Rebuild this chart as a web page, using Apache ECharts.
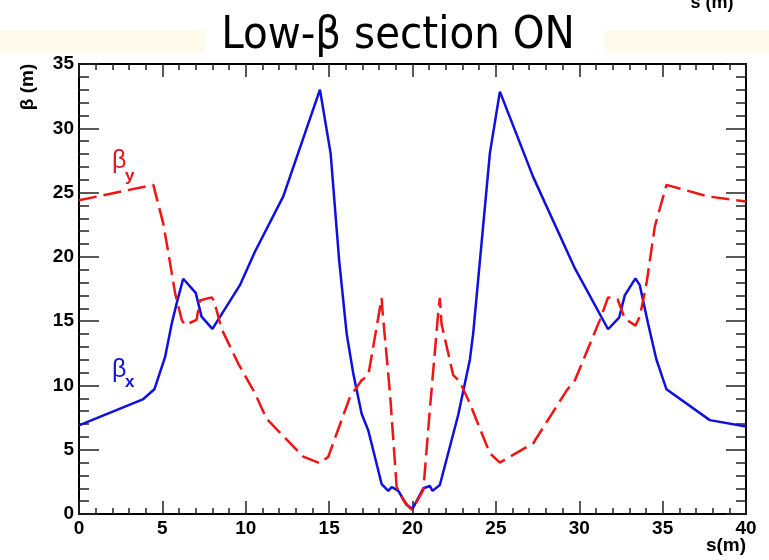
<!DOCTYPE html>
<html>
<head>
<meta charset="utf-8">
<script src="https://cdn.jsdelivr.net/npm/echarts@6/dist/echarts.min.js"></script>
<style>
  html, body { margin: 0; padding: 0; background: #fff; }
  #beta { width: 769px; height: 560px; }
</style>
</head>
<body>
<div id="beta"></div>
<script>
// beta_x (blue, solid)
var sX = [0, 3.86, 4.52, 5.16, 5.56, 5.86, 6.25, 7.0, 7.35, 8.0, 9.65, 10.55, 12.25, 14.45, 15.09,
  15.6, 16.05, 16.45, 16.95, 17.35, 18.15, 18.55, 18.75, 19.15, 19.65, 20.0, 20.65, 21.04, 21.2,
  21.64, 22.74, 23.44, 23.64, 24.64, 25.24, 27.24, 29.74, 31.73, 32.4, 32.73, 33.37, 33.63, 34.13,
  34.63, 35.23, 37.83, 40];
var betaX = [6.9, 8.94, 9.7, 12.2, 14.8, 16.4, 18.3, 17.2, 15.35, 14.4, 17.8, 20.4, 24.7, 33.0, 28.05,
  19.75, 14.05, 10.9, 7.8, 6.5, 2.33, 1.8, 2.1, 1.8, 0.7, 0.4, 2.0, 2.18, 1.8,
  2.26, 7.7, 12.0, 14.05, 28.05, 32.85, 26.2, 19.1, 14.37, 15.3, 17.0, 18.33, 17.8, 14.8,
  12.0, 9.7, 7.3, 6.8];

// beta_y (red, dashed)
var sY = [0, 4.46, 5.05, 5.36, 5.76, 6.16, 6.36, 7.05, 7.25, 7.95, 8.1, 8.55, 9.55, 10.55, 11.25,
  13.45, 14.45, 14.95, 16.25, 16.95, 17.35, 18.15, 18.2, 18.65, 19.05, 19.45, 19.85, 20.0, 20.65,
  21.04, 21.54, 21.64, 21.74, 22.44, 22.84, 23.44, 24.64, 25.24, 27.24, 29.24, 29.74, 31.24, 31.73,
  32.3, 32.73, 33.37, 33.63, 34.03, 34.53, 35.23, 37.73, 40];
var betaY = [24.4, 25.6, 22.6, 20.3, 17.2, 15.1, 14.7, 15.1, 16.6, 16.85, 16.6, 14.4, 11.7, 9.4, 7.4,
  4.46, 3.94, 4.46, 9.1, 10.4, 10.8, 16.8, 15.8, 9.4, 2.1, 1.09, 0.44, 0.35, 1.87,
  8.1, 15.6, 16.8, 14.8, 10.8, 10.3, 8.6, 4.72, 4.0, 5.5, 9.6, 10.4, 15.1, 16.85,
  16.7, 15.2, 14.65, 15.35, 17.9, 22.35, 25.6, 24.7, 24.3];

function pairs(s, b) {
  return s.map(function (v, i) { return [v, b[i]]; });
}

var tickColor = '#222';
var labelFont = { fontSize: 19, fontWeight: 'bold', color: '#000', fontFamily: 'Liberation Sans' };

function xAx(pos, showLabel) {
  return {
    type: 'value', min: 0, max: 40, interval: 5, position: pos,
    axisLine: { show: true, onZero: false, lineStyle: { color: '#000', width: 2 } },
    axisTick: { inside: true, length: 13, lineStyle: { color: tickColor, width: 1.5 } },
    minorTick: { show: true, splitNumber: 5, length: 6, lineStyle: { color: tickColor, width: 1.5 } },
    axisLabel: Object.assign({ show: showLabel, margin: 5 }, labelFont),
    splitLine: { show: false }
  };
}
function yAx(pos, showLabel) {
  return {
    type: 'value', min: 0, max: 35, interval: 5, position: pos,
    axisLine: { show: true, onZero: false, lineStyle: { color: '#000', width: 2 } },
    axisTick: { inside: true, length: 20, lineStyle: { color: tickColor, width: 1.5 } },
    minorTick: { show: true, splitNumber: 5, length: 10, lineStyle: { color: tickColor, width: 1.5 } },
    axisLabel: Object.assign({ show: showLabel, margin: 5 }, labelFont),
    splitLine: { show: false }
  };
}

var chart = echarts.init(document.getElementById('beta'));
chart.setOption({
  backgroundColor: '#fff',
  animation: false,
  grid: { left: 79, right: 23, top: 64, bottom: 46, show: true, backgroundColor: '#fff', borderWidth: 0 },
  xAxis: [xAx('bottom', true), xAx('top', false)],
  yAxis: [yAx('left', true), yAx('right', false)],
  graphic: [
    { type: 'rect', shape: { x: 0, y: 30, width: 205, height: 23 }, style: { fill: '#fdfaec' }, silent: true },
    { type: 'rect', shape: { x: 605, y: 30, width: 164, height: 23 }, style: { fill: '#fdfaec' }, silent: true },
    { type: 'text', x: 398, y: 36, style: { text: 'Low-β section ON', font: '45px "DejaVu Sans Condensed", "DejaVu Sans"', fill: '#000', align: 'center', verticalAlign: 'middle' } },
    { type: 'text', x: 712, y: 3, style: { text: 's (m)', font: 'bold 18px "Liberation Sans"', fill: '#000', align: 'center', verticalAlign: 'middle' } },
    { type: 'text', x: 28, y: 87, rotation: Math.PI / 2, style: { text: 'β (m)', font: 'bold 19px "Liberation Sans"', fill: '#000', align: 'center', verticalAlign: 'middle' } },
    { type: 'text', x: 746, y: 546, style: { text: 's(m)', font: 'bold 19px "Liberation Sans"', fill: '#000', align: 'right', verticalAlign: 'middle' } },
    { type: 'text', x: 112, y: 161, style: { text: 'β', font: '25px "Liberation Sans"', fill: '#e8141c', align: 'left', verticalAlign: 'middle' } },
    { type: 'text', x: 125, y: 176, style: { text: 'y', font: 'bold 17px "Liberation Sans"', fill: '#e8141c', align: 'left', verticalAlign: 'middle' } },
    { type: 'text', x: 112, y: 370, style: { text: 'β', font: '25px "Liberation Sans"', fill: '#1414d8', align: 'left', verticalAlign: 'middle' } },
    { type: 'text', x: 125, y: 382, style: { text: 'x', font: 'bold 17px "Liberation Sans"', fill: '#1414d8', align: 'left', verticalAlign: 'middle' } }
  ],
  series: [
    {
      name: 'beta_x', type: 'line', data: pairs(sX, betaX), showSymbol: false,
      lineStyle: { color: '#0f0fe0', width: 2.5 }, z: 3
    },
    {
      name: 'beta_y', type: 'line', data: pairs(sY, betaY), showSymbol: false,
      lineStyle: { color: '#f01414', width: 2.5, type: [18, 7] }, z: 4
    }
  ]
});
</script>
</body>
</html>
